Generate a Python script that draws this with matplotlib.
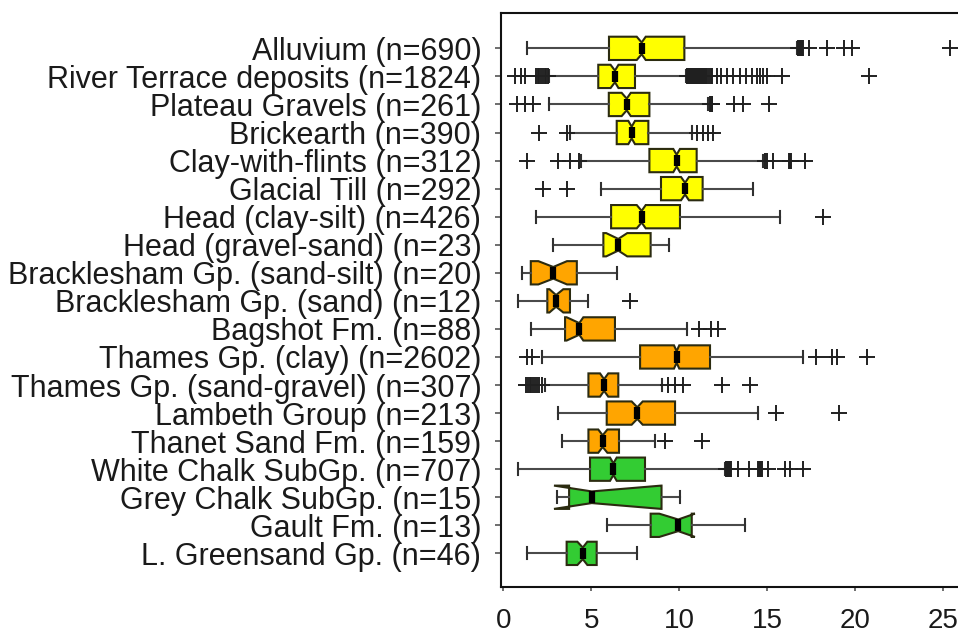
import matplotlib
matplotlib.use("Agg")
import matplotlib.pyplot as plt

plt.rcParams['font.family'] = ['Liberation Sans', 'DejaVu Sans']

labels = [
    "Alluvium (n=690)", "River Terrace deposits (n=1824)", "Plateau Gravels (n=261)",
    "Brickearth (n=390)", "Clay-with-flints (n=312)", "Glacial Till (n=292)",
    "Head (clay-silt) (n=426)", "Head (gravel-sand) (n=23)",
    "Bracklesham Gp. (sand-silt) (n=20)", "Bracklesham Gp. (sand) (n=12)",
    "Bagshot Fm. (n=88)", "Thames Gp. (clay) (n=2602)", "Thames Gp. (sand-gravel) (n=307)",
    "Lambeth Group (n=213)", "Thanet Sand Fm. (n=159)", "White Chalk SubGp. (n=707)",
    "Grey Chalk SubGp. (n=15)", "Gault Fm. (n=13)", "L. Greensand Gp. (n=46)",
]
group = ["yellow"] * 8 + ["orange"] * 7 + ["green"] * 4

whislo = [1.33, 2.60, 2.62, 3.80, 4.40, 5.54, 1.86, 2.81, 1.05, 0.82, 1.56, 2.20, 2.37, 3.13, 3.32, 0.85, 3.04, 5.92, 1.33]
q1     = [6.01, 5.40, 6.00, 6.45, 8.31, 8.97, 6.13, 5.69, 1.56, 2.50, 3.51, 7.78, 4.84, 5.88, 4.84, 4.93, 3.74, 8.38, 3.60]
cilo   = [7.59, 6.10, 6.73, 7.11, 9.67, 10.11, 7.59, 5.85, 1.99, 2.62, 3.60, 9.71, 5.50, 7.30, 5.40, 6.07, 2.88, 8.87, 4.21]
med    = [7.87, 6.35, 7.02, 7.30, 9.86, 10.34, 7.87, 6.54, 2.84, 3.00, 4.32, 9.86, 5.73, 7.62, 5.65, 6.26, 5.03, 9.95, 4.52]
cihi   = [8.10, 6.55, 7.25, 7.49, 10.05, 10.56, 8.10, 7.05, 3.62, 3.41, 4.55, 10.01, 5.97, 7.93, 5.92, 6.45, 8.98, 10.90, 4.78]
q3     = [10.30, 7.49, 8.31, 8.25, 11.00, 11.34, 10.05, 8.38, 4.18, 3.79, 6.35, 11.76, 6.54, 9.77, 6.58, 8.06, 9.00, 10.72, 5.31]
whishi = [16.69, 10.40, 11.65, 10.72, 14.80, 14.22, 15.74, 9.43, 6.45, 4.84, 10.43, 17.03, 9.01, 14.51, 8.63, 12.60, 10.05, 13.75, 7.59]

fliers = [
    [16.75, 16.8, 16.85, 16.9, 16.95, 17.0, 17.05, 17.4, 18.4, 19.4, 19.85, 25.4],
    [0.67, 0.99, 1.23, 1.86, 1.95, 2.05, 2.15, 2.25, 2.35, 2.45, 2.55,
     10.45, 10.5, 10.55, 10.6, 10.65, 10.7, 10.75, 10.8, 10.85, 10.9, 10.95, 11.0,
     11.05, 11.1, 11.15, 11.2, 11.25, 11.3, 11.35, 11.4, 11.45, 11.5, 11.55, 11.6,
     11.7, 11.8, 11.9, 12.14, 12.4, 12.71, 13.08, 13.46, 13.8, 14.13, 14.41, 14.6,
     14.79, 14.98, 15.85, 20.8],
    [0.76, 1.23, 1.71, 11.75, 11.8, 11.85, 11.9, 13.1, 13.65, 15.1],
    [2.05, 3.62, 11.0, 11.38, 11.66, 11.95],
    [1.33, 3.13, 3.79, 4.3, 14.9, 15.0, 15.35, 16.25, 16.3, 16.35, 17.15],
    [2.24, 3.6],
    [18.2],
    [],
    [],
    [7.21],
    [11.15, 11.8, 12.23],
    [1.35, 1.65, 17.79, 18.68, 18.96, 20.71],
    [1.29, 1.4, 1.5, 1.6, 1.7, 1.8, 1.9, 2.05, 2.2, 9.39, 9.77, 10.2, 12.42, 14.03],
    [15.51, 19.11],
    [9.2, 11.32],
    [12.65, 12.7, 12.75, 12.8, 12.85, 12.9, 12.95, 13.37, 13.99, 14.5, 14.55, 14.6,
     14.65, 14.7, 15.07, 16.02, 16.31, 17.06],
    [],
    [],
    [],
]

xticks = [0, 5, 10, 15, 20, 25]
palette = {"yellow": "#FFFF00", "orange": "#FFA500", "green": "#33CC33"}

stats = []
for i in range(len(labels)):
    stats.append(dict(med=med[i], q1=q1[i], q3=q3[i], whislo=whislo[i], whishi=whishi[i],
                      cilo=cilo[i], cihi=cihi[i], fliers=fliers[i]))

fig = plt.figure(figsize=(9.58, 6.37), dpi=100)
ax = fig.add_axes([0.5227, 0.078, 0.4888, 0.9016])

positions = list(range(1, len(labels) + 1))
bp = ax.bxp(stats, positions=positions, vert=False, shownotches=True, patch_artist=True,
            widths=0.83, capwidths=0.43,
            boxprops=dict(edgecolor="#2b2b10", linewidth=1.5),
            whiskerprops=dict(color="#4a4a4a", linewidth=1.5),
            capprops=dict(color="#303030", linewidth=1.5),
            medianprops=dict(color="black", linewidth=4.5, solid_capstyle="butt"),
            flierprops=dict(marker="+", markersize=12, markeredgewidth=1.4,
                            markeredgecolor="#202020", linestyle="none"))
for patch, g in zip(bp["boxes"], group):
    patch.set_facecolor(palette[g])

ax.set_ylim(20.21, -0.26)
ax.set_xlim(-0.15, 26.5)
ax.set_yticks(positions)
ax.set_yticklabels(labels, fontsize=22, color="#1a1a1a")
ax.set_xticks(xticks)
ax.set_xticklabels([str(t) for t in xticks], fontsize=20, color="#1a1a1a")
ax.tick_params(axis="y", direction="out", length=4, width=1.2, pad=10, color="#555555")
ax.tick_params(axis="x", direction="out", length=3, width=1.2, pad=12, color="#555555")
for s in ax.spines.values():
    s.set_linewidth(1.5)
    s.set_color("#111111")

fig.savefig("out.png", dpi=100)
